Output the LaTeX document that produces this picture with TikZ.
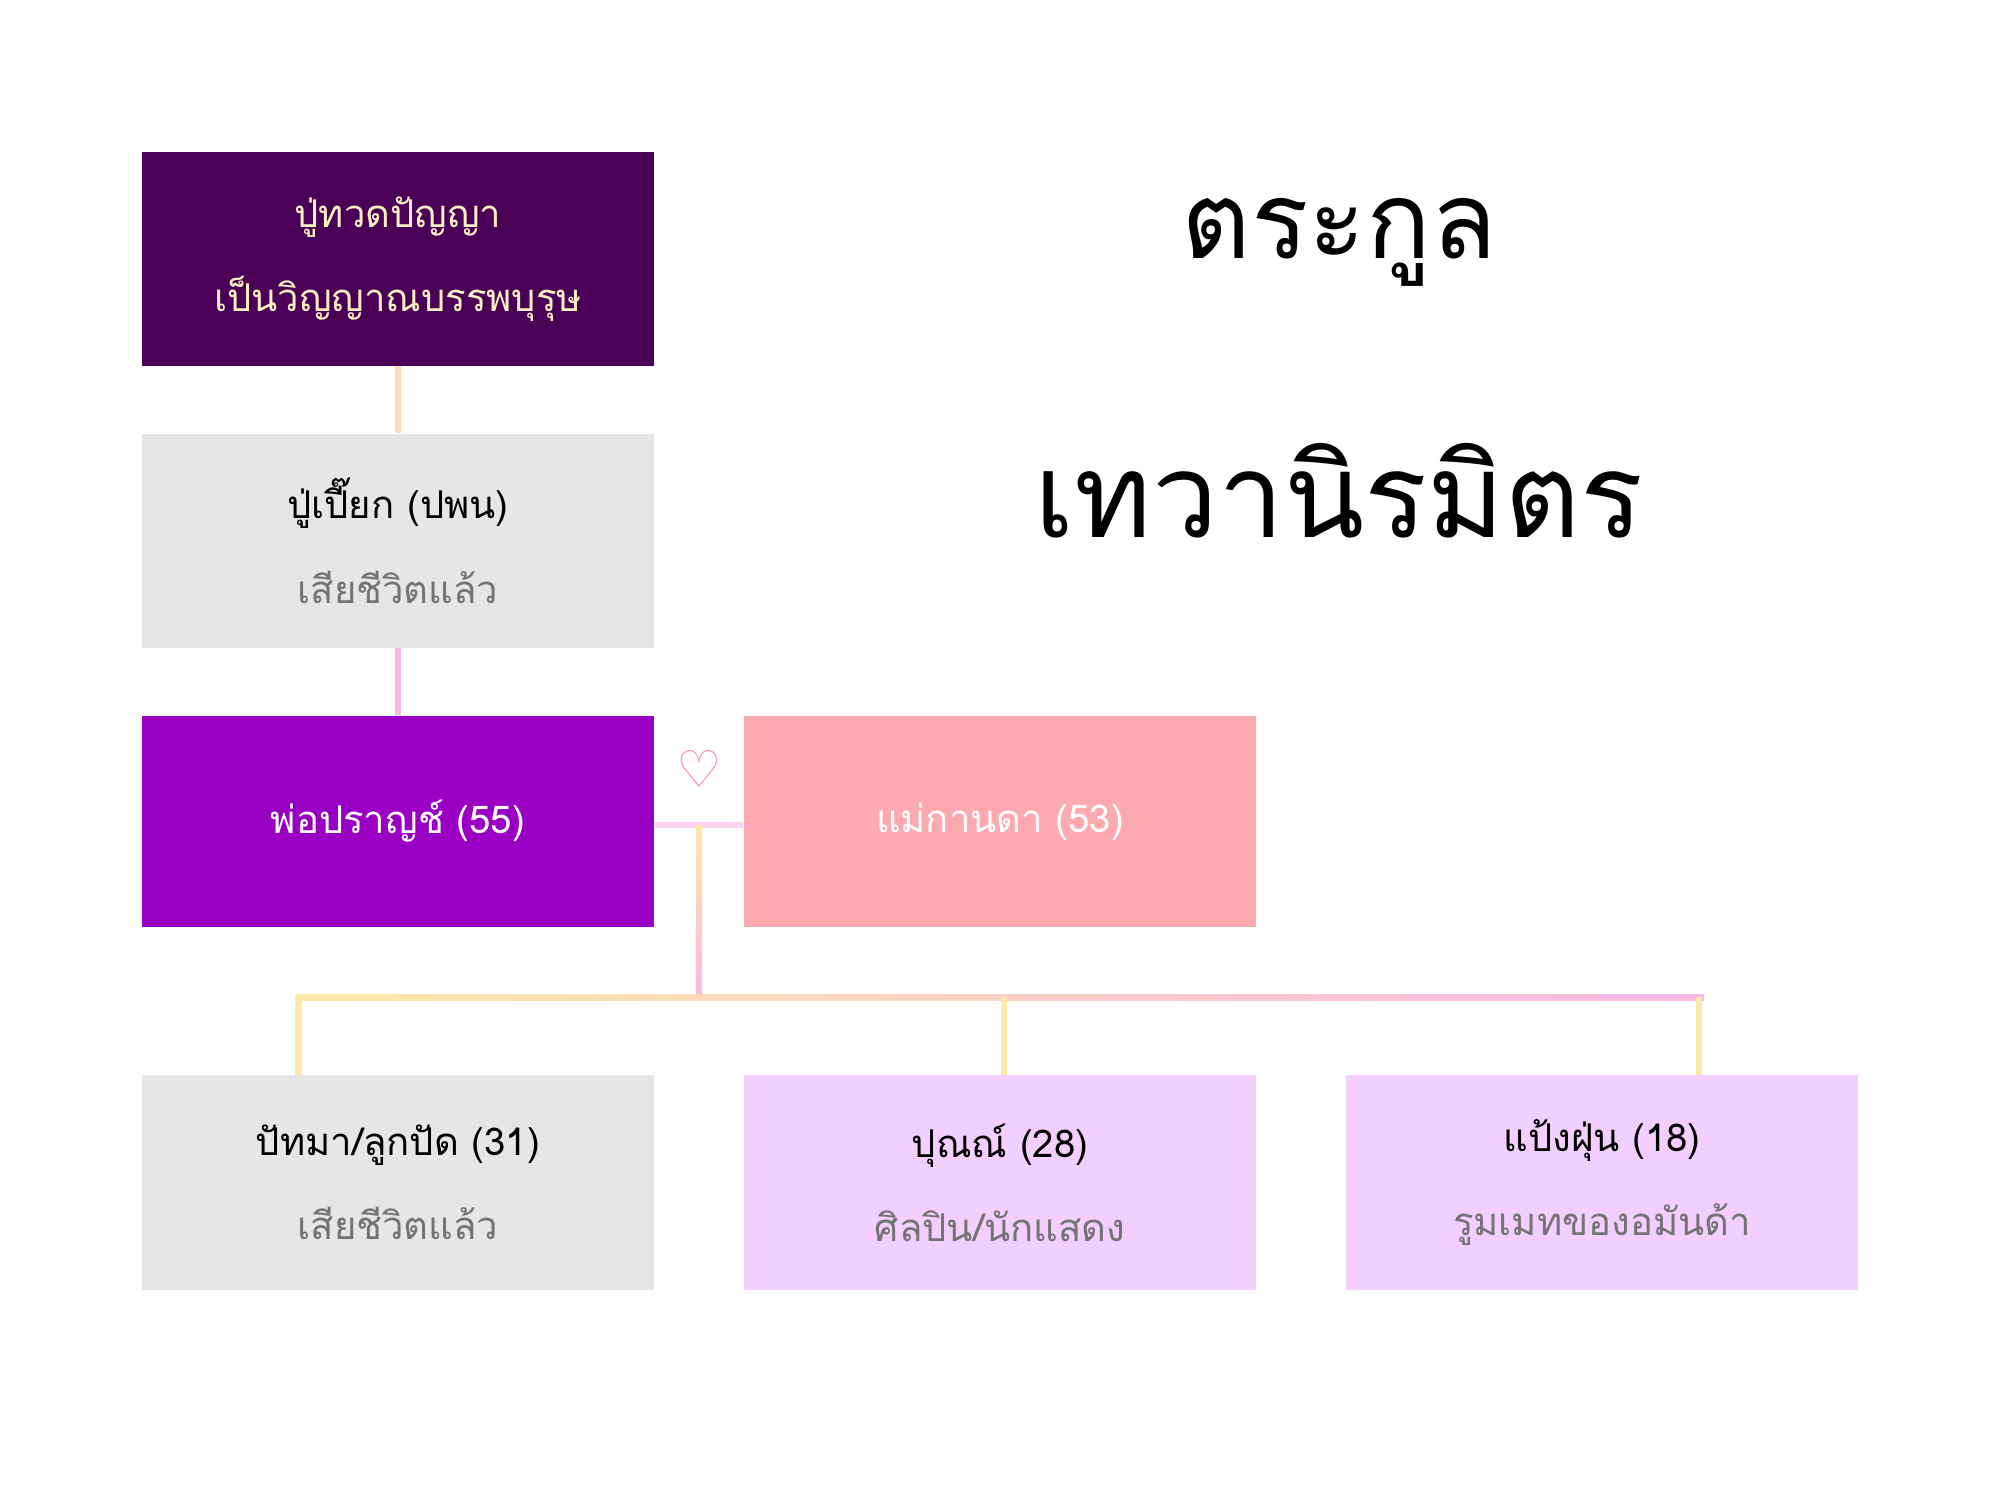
\documentclass[tikz,border=0pt]{standalone}
\usepackage{fontspec}
\setmainfont{Loma}[Script=Thai]
\newfontfamily\symfont{DejaVu Sans}
\usetikzlibrary{positioning}
\definecolor{ancestor}{HTML}{4A0057}
\definecolor{deadgrey}{HTML}{E6E6E6}
\definecolor{father}{HTML}{9900C4}
\definecolor{mother}{HTML}{FDA9B0}
\definecolor{child}{HTML}{F3CFFF}
\definecolor{cream}{HTML}{FFF0C0}
\definecolor{peach}{HTML}{FFD9C0}
\definecolor{linkpink}{HTML}{F9B8E6}
\definecolor{linkyellow}{HTML}{FFE9A8}
\tikzset{person/.style={rectangle,minimum width=402pt,minimum height=168pt,inner sep=0pt,align=center,font=\fontsize{30}{66}\selectfont},
  link/.style={line width=5pt},
}
\begin{document}
\begin{tikzpicture}[x=1pt,y=-1pt]
	\useasboundingbox (0,0) rectangle (1568,1176);
	\node[person,fill=ancestor,text=cream] (tuad) at (312,203){ปู่ทวดปัญญา\\เป็นวิญญาณบรรพบุรุษ};
	\node[person,fill=deadgrey] (piak) at (312,424){ปู่เปี๊ยก (ปพน)\\\textcolor{black!55}{เสียชีวิตแล้ว}};
	\node[person,fill=father,text=white,minimum height=166pt] (pran) at (312,644){พ่อปราญช์ (55)};
	\node[person,fill=mother,text=white,minimum height=166pt] (kanda) at (784,644){แม่กานดา (53)};
	\node[person,fill=deadgrey] (pat) at (312,927){ปัทมา/ลูกปัด (31)\\\textcolor{black!55}{เสียชีวิตแล้ว}};
	\node[person,fill=child] (poon) at (784,927){ปุณณ์ (28)\\\textcolor{black!55}{ศิลปิน/นักแสดง}};
	\node[person,fill=child] (pang) at (1256,927){แป้งฝุ่น (18)\\\textcolor{black!55}{รูมเมทของอมันด้า}};
	\node[font=\fontsize{84}{90}\selectfont] (title1) at (1050,190){ตระกูล};
	\node[font=\fontsize{92}{100}\selectfont] (title2) at (1050,385){เทวานิรมิตร};
	\node[font=\symfont\fontsize{40}{40}\selectfont,text=linkpink!80!red] (heart) at (548,603){♡};
	\coordinate (wed) at (548,647);
	\coordinate (left) at (234,782);
	\coordinate (mid) at (787,782);
	\coordinate (right) at (1332,782);
	
	\draw[link,peach] (tuad.south) -- (piak.north);
	\draw[link,linkpink] (piak.south) -- (pran.north);
	\draw[link,linkpink!60] (pran.east|-wed) -- (kanda.west|-wed);
	\shade[top color=linkyellow,bottom color=linkpink] (545.5,647) rectangle (550.5,782);
	\shade[left color=linkyellow,right color=linkpink] (232,779.5) rectangle (1336,784.5);
	\draw[link,linkyellow] (left) -- (left|-pat.north);
	\draw[link,linkyellow] (mid) -- (mid|-poon.north);
	\draw[link,linkyellow] (right) -- (right|-pang.north);
\end{tikzpicture}
\end{document}
